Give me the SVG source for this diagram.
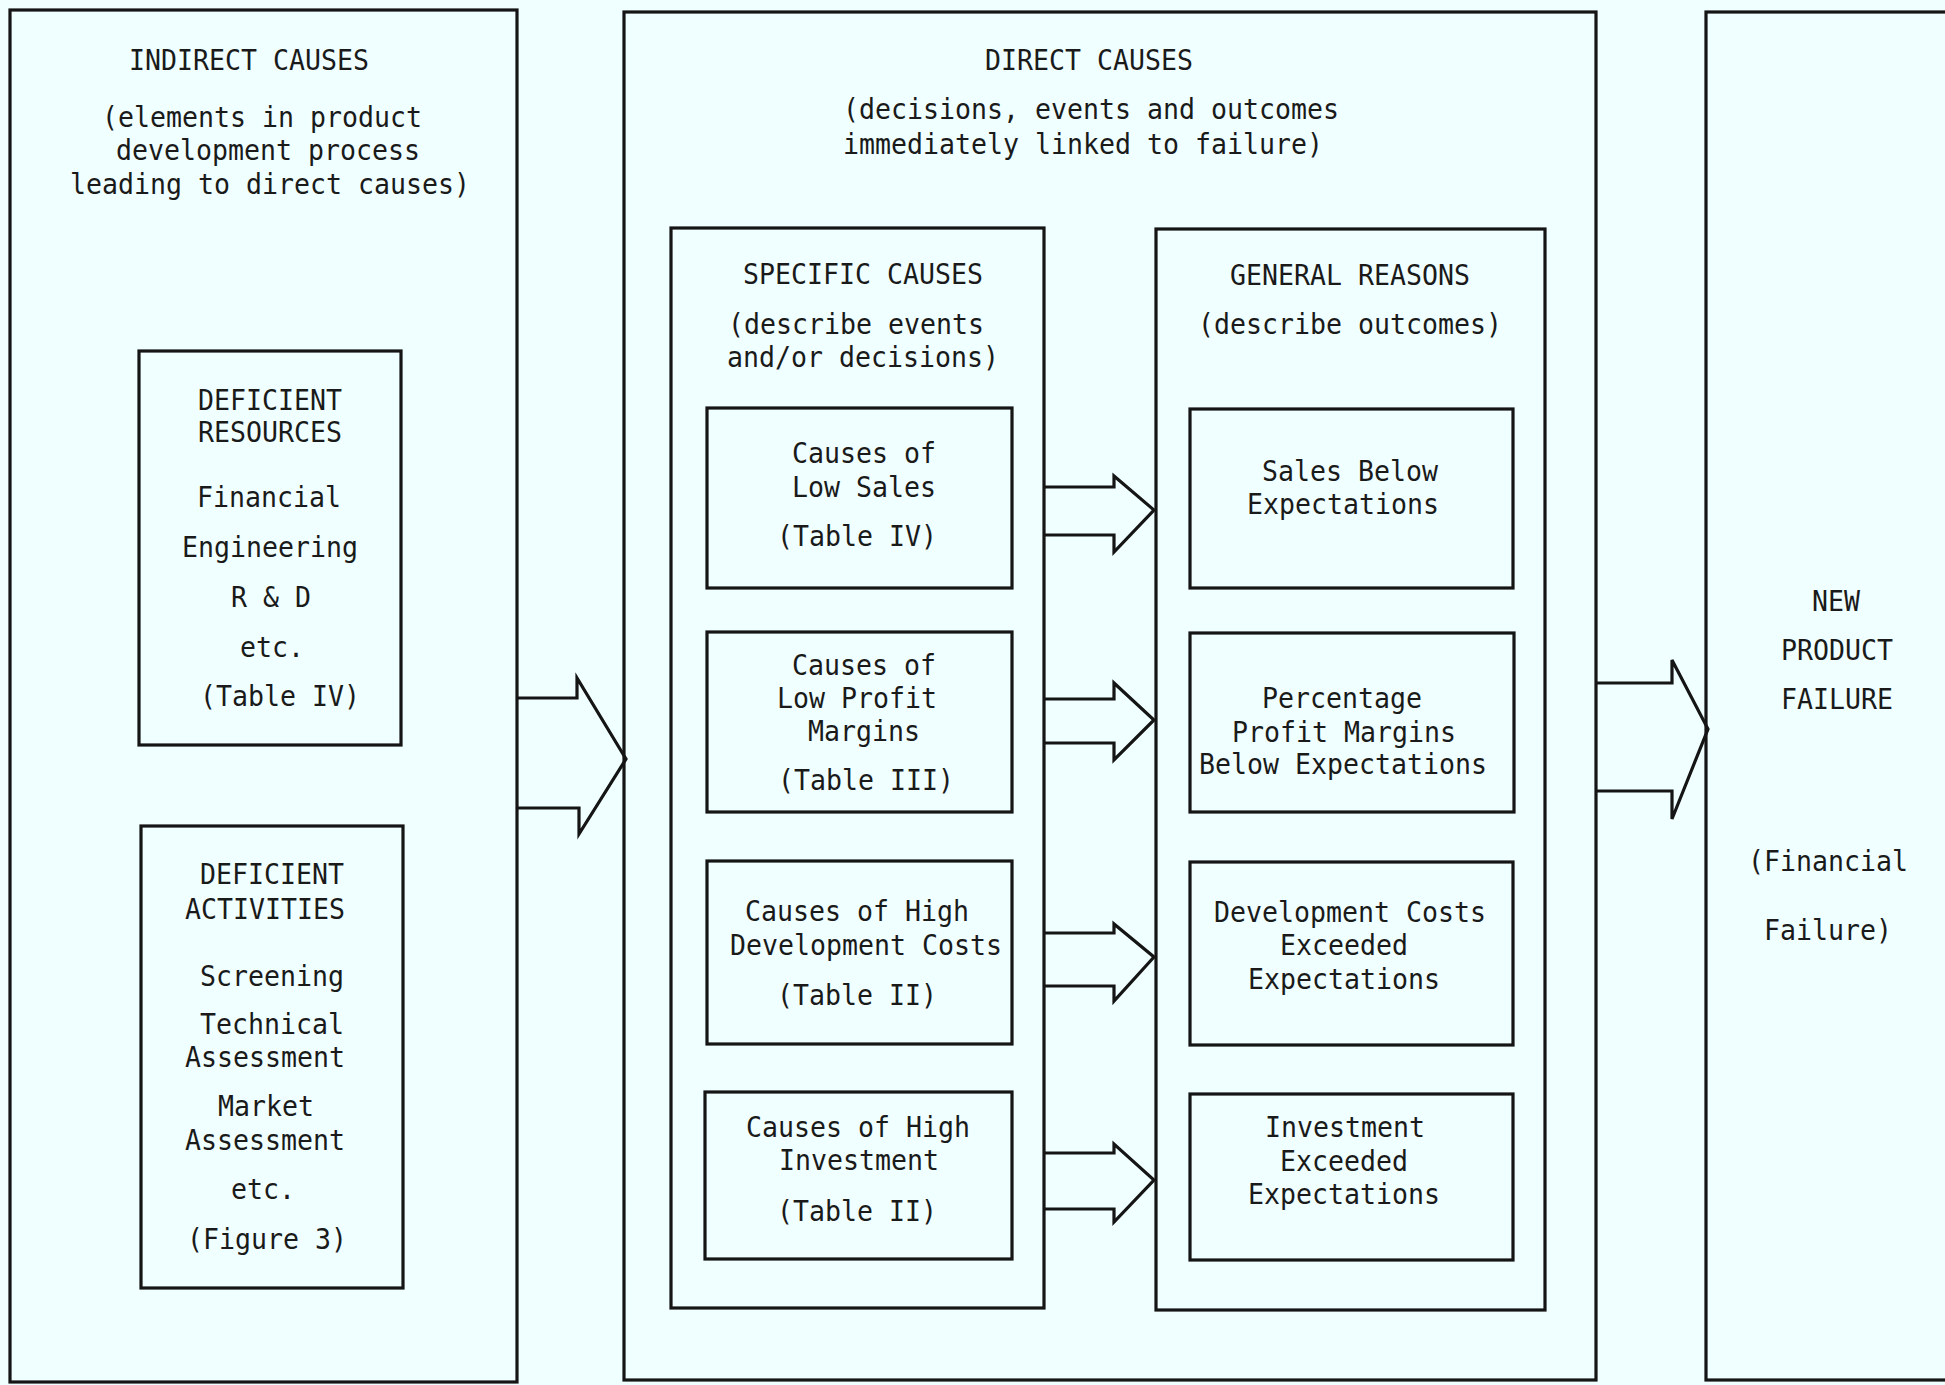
<svg xmlns="http://www.w3.org/2000/svg" width="1945" height="1385" viewBox="0 0 1945 1385">
<style>
.bg{fill:#f0ffff}
.box{fill:none;stroke:#151515;stroke-width:3.2}
.arr{fill:none;stroke:#151515;stroke-width:3.2;stroke-linejoin:miter}
text{font-family:"DejaVu Sans Mono","Liberation Mono",monospace;font-size:29px;fill:#1a1a1a;text-anchor:middle}
</style>
<rect class="bg" x="0" y="0" width="1945" height="1385"/>

<g id="indirect-causes">
<rect class="box" x="10" y="10" width="507" height="1372"/>
<text x="249" y="70" textLength="240" lengthAdjust="spacingAndGlyphs">INDIRECT CAUSES</text>
<text x="262" y="127" textLength="320" lengthAdjust="spacingAndGlyphs">(elements in product</text>
<text x="268" y="160" textLength="304" lengthAdjust="spacingAndGlyphs">development process</text>
<text x="270" y="194" textLength="400" lengthAdjust="spacingAndGlyphs">leading to direct causes)</text>
</g>

<g id="deficient-resources">
<rect class="box" x="139" y="351" width="262" height="394"/>
<text x="270" y="410" textLength="144" lengthAdjust="spacingAndGlyphs">DEFICIENT</text>
<text x="270" y="442" textLength="144" lengthAdjust="spacingAndGlyphs">RESOURCES</text>
<text x="269" y="507" textLength="144" lengthAdjust="spacingAndGlyphs">Financial</text>
<text x="270" y="557" textLength="176" lengthAdjust="spacingAndGlyphs">Engineering</text>
<text x="271" y="607" textLength="80" lengthAdjust="spacingAndGlyphs">R &amp; D</text>
<text x="272" y="657" textLength="64" lengthAdjust="spacingAndGlyphs">etc.</text>
<text x="280" y="706" textLength="160" lengthAdjust="spacingAndGlyphs">(Table IV)</text>
</g>

<g id="deficient-activities">
<rect class="box" x="141" y="826" width="262" height="462"/>
<text x="272" y="884" textLength="144" lengthAdjust="spacingAndGlyphs">DEFICIENT</text>
<text x="265" y="919" textLength="160" lengthAdjust="spacingAndGlyphs">ACTIVITIES</text>
<text x="272" y="986" textLength="144" lengthAdjust="spacingAndGlyphs">Screening</text>
<text x="272" y="1034" textLength="144" lengthAdjust="spacingAndGlyphs">Technical</text>
<text x="265" y="1067" textLength="160" lengthAdjust="spacingAndGlyphs">Assessment</text>
<text x="266" y="1116" textLength="96" lengthAdjust="spacingAndGlyphs">Market</text>
<text x="265" y="1150" textLength="160" lengthAdjust="spacingAndGlyphs">Assessment</text>
<text x="263" y="1199" textLength="64" lengthAdjust="spacingAndGlyphs">etc.</text>
<text x="267" y="1249" textLength="160" lengthAdjust="spacingAndGlyphs">(Figure 3)</text>
</g>

<g id="direct-causes">
<rect class="box" x="624" y="12" width="972" height="1368"/>
<text x="1089" y="70" textLength="208" lengthAdjust="spacingAndGlyphs">DIRECT CAUSES</text>
<text x="1091" y="119" textLength="496" lengthAdjust="spacingAndGlyphs">(decisions, events and outcomes</text>
<text x="1083" y="154" textLength="480" lengthAdjust="spacingAndGlyphs">immediately linked to failure)</text>
</g>

<g id="specific-causes">
<rect class="box" x="671" y="228" width="373" height="1080"/>
<text x="863" y="284" textLength="240" lengthAdjust="spacingAndGlyphs">SPECIFIC CAUSES</text>
<text x="856" y="334" textLength="256" lengthAdjust="spacingAndGlyphs">(describe events</text>
<text x="863" y="367" textLength="272" lengthAdjust="spacingAndGlyphs">and/or decisions)</text>
</g>

<g id="general-reasons">
<rect class="box" x="1156" y="229" width="389" height="1081"/>
<text x="1350" y="285" textLength="240" lengthAdjust="spacingAndGlyphs">GENERAL REASONS</text>
<text x="1350" y="334" textLength="304" lengthAdjust="spacingAndGlyphs">(describe outcomes)</text>
</g>

<g id="causes-low-sales">
<rect class="box" x="707" y="408" width="305" height="180"/>
<text x="864" y="463" textLength="144" lengthAdjust="spacingAndGlyphs">Causes of</text>
<text x="864" y="497" textLength="144" lengthAdjust="spacingAndGlyphs">Low Sales</text>
<text x="857" y="546" textLength="160" lengthAdjust="spacingAndGlyphs">(Table IV)</text>
</g>

<g id="causes-low-profit">
<rect class="box" x="707" y="632" width="305" height="180"/>
<text x="864" y="675" textLength="144" lengthAdjust="spacingAndGlyphs">Causes of</text>
<text x="857" y="708" textLength="160" lengthAdjust="spacingAndGlyphs">Low Profit</text>
<text x="864" y="741" textLength="112" lengthAdjust="spacingAndGlyphs">Margins</text>
<text x="866" y="790" textLength="176" lengthAdjust="spacingAndGlyphs">(Table III)</text>
</g>

<g id="causes-high-dev-costs">
<rect class="box" x="707" y="861" width="305" height="183"/>
<text x="857" y="921" textLength="224" lengthAdjust="spacingAndGlyphs">Causes of High</text>
<text x="866" y="955" textLength="272" lengthAdjust="spacingAndGlyphs">Development Costs</text>
<text x="857" y="1005" textLength="160" lengthAdjust="spacingAndGlyphs">(Table II)</text>
</g>

<g id="causes-high-investment">
<rect class="box" x="705" y="1092" width="307" height="167"/>
<text x="858" y="1137" textLength="224" lengthAdjust="spacingAndGlyphs">Causes of High</text>
<text x="859" y="1170" textLength="160" lengthAdjust="spacingAndGlyphs">Investment</text>
<text x="857" y="1221" textLength="160" lengthAdjust="spacingAndGlyphs">(Table II)</text>
</g>

<g id="sales-below">
<rect class="box" x="1190" y="409" width="323" height="179"/>
<text x="1350" y="481" textLength="176" lengthAdjust="spacingAndGlyphs">Sales Below</text>
<text x="1343" y="514" textLength="192" lengthAdjust="spacingAndGlyphs">Expectations</text>
</g>

<g id="profit-below">
<rect class="box" x="1190" y="633" width="324" height="179"/>
<text x="1342" y="708" textLength="160" lengthAdjust="spacingAndGlyphs">Percentage</text>
<text x="1344" y="742" textLength="224" lengthAdjust="spacingAndGlyphs">Profit Margins</text>
<text x="1343" y="774" textLength="288" lengthAdjust="spacingAndGlyphs">Below Expectations</text>
</g>

<g id="dev-costs-exceeded">
<rect class="box" x="1190" y="862" width="323" height="183"/>
<text x="1350" y="922" textLength="272" lengthAdjust="spacingAndGlyphs">Development Costs</text>
<text x="1344" y="955" textLength="128" lengthAdjust="spacingAndGlyphs">Exceeded</text>
<text x="1344" y="989" textLength="192" lengthAdjust="spacingAndGlyphs">Expectations</text>
</g>

<g id="investment-exceeded">
<rect class="box" x="1190" y="1094" width="323" height="166"/>
<text x="1345" y="1137" textLength="160" lengthAdjust="spacingAndGlyphs">Investment</text>
<text x="1344" y="1171" textLength="128" lengthAdjust="spacingAndGlyphs">Exceeded</text>
<text x="1344" y="1204" textLength="192" lengthAdjust="spacingAndGlyphs">Expectations</text>
</g>

<g id="new-product-failure">
<rect class="box" x="1706" y="12" width="260" height="1368"/>
<text x="1836" y="611" textLength="48" lengthAdjust="spacingAndGlyphs">NEW</text>
<text x="1837" y="660" textLength="112" lengthAdjust="spacingAndGlyphs">PRODUCT</text>
<text x="1837" y="709" textLength="112" lengthAdjust="spacingAndGlyphs">FAILURE</text>
<text x="1828" y="871" textLength="160" lengthAdjust="spacingAndGlyphs">(Financial</text>
<text x="1828" y="940" textLength="128" lengthAdjust="spacingAndGlyphs">Failure)</text>
</g>

<g id="connectors">
<path class="arr" d="M517,698 H577 V678 L626,759 L579,834 V808 H517"/>
<path class="arr" d="M1044,487 H1114 V476 L1154,510 L1114,552 V535 H1044"/>
<path class="arr" d="M1044,699 H1114 V683 L1154,720 L1114,760 V743 H1044"/>
<path class="arr" d="M1044,933 H1114 V924 L1154,957 L1114,1001 V986 H1044"/>
<path class="arr" d="M1044,1153 H1114 V1144 L1154,1180 L1114,1222 V1209 H1044"/>
<path class="arr" d="M1596,683 H1672 V660 L1708,729 L1672,819 V791 H1596"/>
</g>
</svg>
